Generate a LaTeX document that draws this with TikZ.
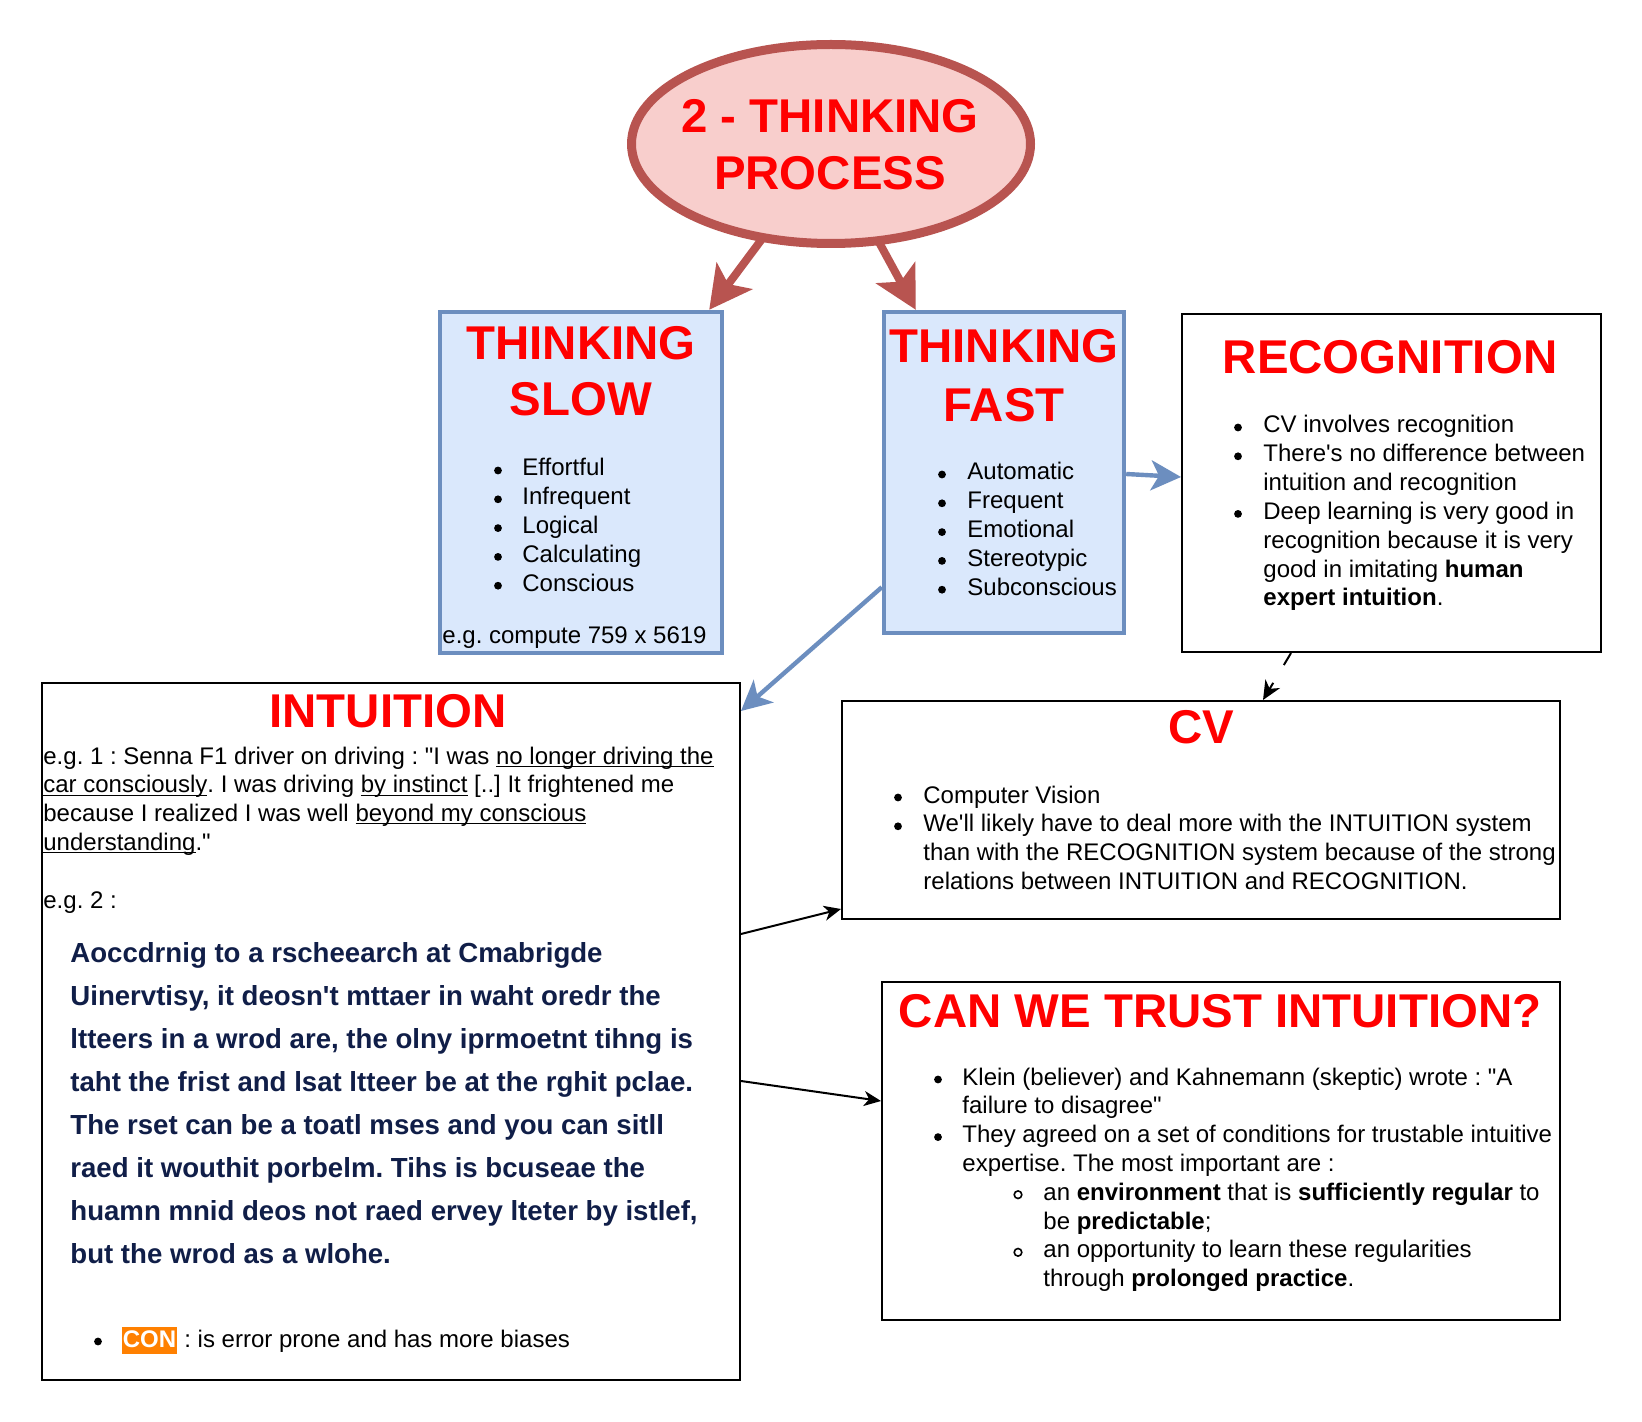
\documentclass[tikz,border=0pt]{standalone}
\usepackage{fontspec}
\setmainfont{Liberation Sans}
\usetikzlibrary{arrows.meta,shapes.geometric,calc}
\definecolor{efill}{HTML}{F8CECC}
\definecolor{estroke}{HTML}{B85450}
\definecolor{bfill}{HTML}{DAE8FC}
\definecolor{bstroke}{HTML}{6C8EBF}
\definecolor{navy}{HTML}{101E48}
\definecolor{conorange}{HTML}{FF8000}
\newsavebox\ulbox
\newcommand\ulx[1]{\sbox\ulbox{#1}\rlap{\rule[-1.4pt]{\wd\ulbox}{0.55pt}}\usebox\ulbox}
\newcommand\apos{\textquotesingle}
\newcommand\dq{\textquotedbl}
\newcommand\tline[4]{\node[txt] (#1) at (#2,#3) {#4};}
\newcommand\nline[4]{\node[navytxt] (#1) at (#2,#3) {#4};}
\newcommand\bdot[2]{\fill (#1,#2-5.5) circle[radius=1.95pt];}
\newcommand\subbul[2]{\draw[line width=0.8pt] (#1,#2-5.5) circle[radius=1.9pt];}
\frenchspacing
\begin{document}
\begin{tikzpicture}[x=0.5pt,y=-0.5pt,
  txt/.style={font=\fontsize{12}{14.4}\selectfont, inner sep=0pt, anchor=base west},
  navytxt/.style={font=\fontsize{13.8}{16}\selectfont\bfseries, text=navy, inner sep=0pt, anchor=base west},
  ttl/.style={font=\fontsize{23.7}{28.5}\selectfont\bfseries, text=red, inner sep=0pt, anchor=base},
  bluebox/.style={draw=bstroke, fill=bfill, line width=2.2pt, inner sep=0pt},
  blackbox/.style={draw=black, line width=1pt, inner sep=0pt},
  redarrow/.style={draw=estroke, line width=4pt, -{Stealth[length=21pt,width=22pt,inset=5pt]}},
  bluearrow/.style={draw=bstroke, line width=2.2pt, -{Stealth[length=15pt,width=15pt,inset=4pt]}},
  blackarrow/.style={draw=black, line width=1pt, -{Stealth[length=8.5pt,width=7.5pt,inset=2.5pt]}}]
\fill[white] (0,0) rectangle (1642,1422);
\useasboundingbox (0,0) rectangle (1642,1422);

% ---- central ellipse
\node[ellipse, draw=estroke, fill=efill, line width=4.5pt, minimum width=199.5pt, minimum height=99.5pt,
      inner sep=0pt, outer sep=0pt] (proc) at (831,144) {};
\node[ttl] (proct1) at (830,133) {2 - THINKING};
\node[ttl] (proct2) at (830,190) {PROCESS};

% ---- thinking slow
\node[bluebox, minimum width=141pt, minimum height=170.5pt] (slow) at (581,482.5) {};
\node[ttl] (slowt1) at (581,360) {THINKING};
\node[ttl] (slowt2) at (581,416) {SLOW};
\bdot{498}{476}\tline{s1}{522}{476}{Effortful}
\bdot{498}{504.8}\tline{s2}{522}{504.8}{Infrequent}
\bdot{498}{533.6}\tline{s3}{522}{533.6}{Logical}
\bdot{498}{562.4}\tline{s4}{522}{562.4}{Calculating}
\bdot{498}{591.2}\tline{s5}{522}{591.2}{Conscious}
\tline{slowe}{442}{643}{e.g. compute 759 x 5619}

% ---- thinking fast
\node[bluebox, minimum width=120pt, minimum height=160.5pt] (fast) at (1004,472.5) {};
\node[ttl] (fastt1) at (1004,363) {THINKING};
\node[ttl] (fastt2) at (1004,422) {FAST};
\bdot{942}{480}\tline{f1}{967}{480}{Automatic}
\bdot{942}{508.8}\tline{f2}{967}{508.8}{Frequent}
\bdot{942}{537.6}\tline{f3}{967}{537.6}{Emotional}
\bdot{942}{566.4}\tline{f4}{967}{566.4}{Stereotypic}
\bdot{942}{595.2}\tline{f5}{967}{595.2}{Subconscious}

% ---- recognition
\node[blackbox, minimum width=209.5pt, minimum height=169pt] (recog) at (1391.5,483) {};
\node[ttl] (recogt) at (1390,374) {RECOGNITION};
\bdot{1238}{433}\tline{r1}{1263}{433}{CV involves recognition}
\bdot{1238}{461.8}\tline{r2}{1263}{461.8}{There\apos s no difference between}
\tline{r3}{1263}{490.6}{intuition and recognition}
\bdot{1238}{519.4}\tline{r4}{1263}{519.4}{Deep learning is very good in}
\tline{r5}{1263}{548.2}{recognition because it is very}
\tline{r6}{1263}{577}{good in imitating \textbf{human}}
\tline{r7}{1263}{605.8}{\textbf{expert intuition}.}

% ---- CV
\node[blackbox, minimum width=359pt, minimum height=109pt] (cv) at (1201,810) {};
\node[ttl] (cvt) at (1201,743) {CV};
\bdot{898}{803}\tline{c1}{923}{803}{Computer Vision}
\bdot{898}{831.8}\tline{c2}{923}{831.8}{We\apos ll likely have to deal more with the INTUITION system}
\tline{c3}{923}{860.6}{than with the RECOGNITION system because of the strong}
\tline{c4}{923}{889.4}{relations between INTUITION and RECOGNITION.}

% ---- can we trust intuition
\node[blackbox, minimum width=339pt, minimum height=169pt] (trust) at (1221,1151) {};
\node[ttl] (trustt) at (1220,1027) {CAN WE TRUST INTUITION?};
\bdot{938}{1085}\tline{t1}{962}{1085}{Klein (believer) and Kahnemann (skeptic) wrote : \dq A}
\tline{t2}{962}{1113.8}{failure to disagree\dq}
\bdot{938}{1142.6}\tline{t3}{962}{1142.6}{They agreed on a set of conditions for trustable intuitive}
\tline{t4}{962}{1171.4}{expertise. The most important are :}
\subbul{1018}{1200.2}\tline{t5}{1043}{1200.2}{an \textbf{environment} that is \textbf{sufficiently regular} to}
\tline{t6}{1043}{1229}{be \textbf{predictable};}
\subbul{1018}{1257.8}\tline{t7}{1043}{1257.8}{an opportunity to learn these regularities}
\tline{t8}{1043}{1286.6}{through \textbf{prolonged practice}.}

% ---- intuition
\node[blackbox, minimum width=349pt, minimum height=348.5pt] (intu) at (391,1031.5) {};
\node[ttl] (intut) at (388,727) {INTUITION};
\tline{i1}{43}{764}{e.g. 1 : Senna F1 driver on driving : \dq I was \ulx{no longer driving the}}
\tline{i2}{43}{792.8}{\ulx{car consciously}. I was driving \ulx{by instinct} [..] It frightened me}
\tline{i3}{43}{821.6}{because I realized I was well \ulx{beyond my conscious}}
\tline{i4}{43}{850.4}{\ulx{understanding}.\dq}
\tline{i5}{43}{908}{e.g. 2 :}
\nline{n1}{70}{962}{Aoccdrnig to a rscheearch at Cmabrigde}
\nline{n2}{70}{1005}{Uinervtisy, it deosn\apos t mttaer in waht oredr the}
\nline{n3}{70}{1048}{ltteers in a wrod are, the olny iprmoetnt tihng is}
\nline{n4}{70}{1091}{taht the frist and lsat ltteer be at the rghit pclae.}
\nline{n5}{70}{1134}{The rset can be a toatl mses and you can sitll}
\nline{n6}{70}{1177}{raed it wouthit porbelm. Tihs is bcuseae the}
\nline{n7}{70}{1220}{huamn mnid deos not raed ervey lteter by istlef,}
\nline{n8}{70}{1263}{but the wrod as a wlohe.}
\bdot{98}{1347}
\node[fill=conorange, text=white, font=\fontsize{12}{14.4}\selectfont\bfseries,
      inner xsep=0.2pt, inner ysep=0.25pt, text height=10pt, text depth=3pt, anchor=base west] (con) at (122,1347) {CON};
\tline{conr}{184}{1347}{: is error prone and has more biases}

% ---- connectors
\draw[redarrow] (proc.234.4) -- ([xshift=-7.5pt]slow.north east);
\draw[redarrow] (proc.296.8) -- ([xshift=17pt]fast.north west);
\draw[bluearrow] ([yshift=-0.75pt]fast.east) -- ([yshift=3pt]recog.west);
\draw[bluearrow] ([yshift=24pt]fast.south west) -- ([yshift=-14.5pt]intu.north east);
\draw[blackarrow] ([yshift=-126pt]intu.north east) -- ([yshift=5.5pt]cv.south west);
\draw[blackarrow] ([yshift=-199.5pt]intu.north east) -- ([yshift=-60pt]trust.north west);
% dashed recognition -> CV: one dash, a gap, then the head
\coordinate (dstart) at ([xshift=55pt]recog.south west);
\coordinate (dend) at ([xshift=211pt]cv.north west);
\draw[line width=1pt] (dstart) -- ($(dstart)!7pt!(dend)$);
\draw[blackarrow, -{Stealth[length=9.5pt,width=8.5pt,inset=3pt]}] ($(dend)!10pt!(dstart)$) -- (dend);
\end{tikzpicture}
\end{document}
